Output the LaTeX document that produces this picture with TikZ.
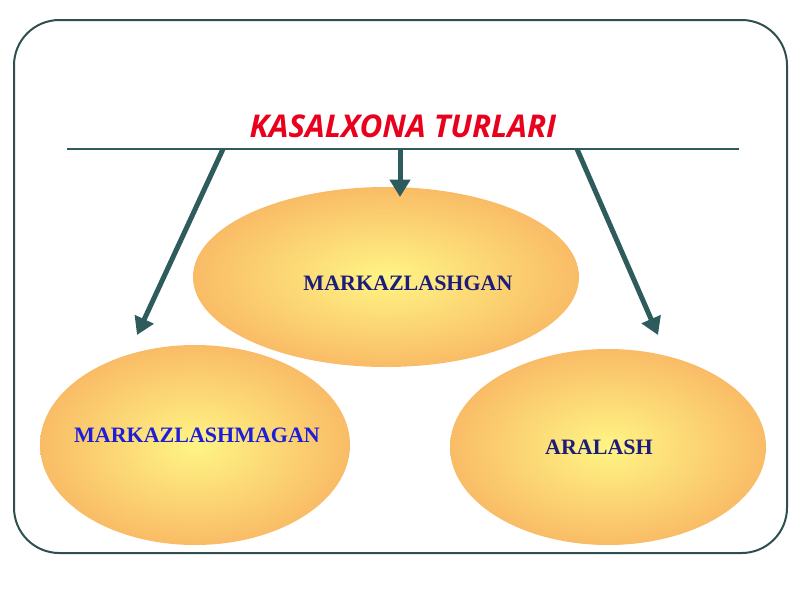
\documentclass[tikz,border=0pt]{standalone}
\usepackage{fontspec}
\setmainfont{Liberation Serif}
\newfontfamily\titlefont{Open Sans}
\usetikzlibrary{shapes.geometric,arrows.meta}

\definecolor{frameclr}{HTML}{2F4F4F}
\definecolor{arrowclr}{HTML}{2E5B5B}
\definecolor{titlered}{HTML}{E8001C}
\definecolor{navytxt}{HTML}{1C1C7A}
\definecolor{bluetxt}{HTML}{1E1ED8}
\definecolor{ovalin}{HTML}{FFF585}
\definecolor{ovalout}{HTML}{F9BC66}

\begin{document}
\begin{tikzpicture}[x=0.75pt,y=-0.75pt]
      \useasboundingbox (0,0) rectangle (800,600);

      \draw[frameclr, line width=1.5pt, rounded corners=34pt] (14,20) rectangle (787,553);

      \node (title) at (403,126) {\titlefont\fontsize{23.5}{26}\selectfont\bfseries\itshape\color{titlered}KASALXONA TURLARI};

      \coordinate (lft) at (67,149);
      \coordinate (rgt) at (739,149);
      \draw[arrowclr, line width=2pt] (lft) -- (rgt);

      \begin{scope}[every node/.style={ellipse, shading=radial, inner color=ovalin, outer color=ovalout}]
        \node (centr) [minimum width=289.5pt, minimum height=135pt] at (386,277) {};
        \node (left)  [minimum width=232.5pt, minimum height=150pt] at (195,445) {};
        \node (right) [minimum width=237pt,   minimum height=147pt] at (608,447) {};
      \end{scope}

      \begin{scope}[every node/.style={font=\fontsize{16.5}{18}\selectfont\bfseries}]
        \node[text=navytxt] (t1) at (408,283) {MARKAZLASHGAN};
        \node[text=bluetxt] (t2) at (197,435) {MARKAZLASHMAGAN};
        \node[text=navytxt] (t3) at (599,447) {ARALASH};
      \end{scope}

      \coordinate (s1) at (223,149);
      \coordinate (s2) at (400,149);
      \coordinate (s3) at (577,149);
      \coordinate (e1) at (137,335);
      \coordinate (e2) at (400,197);
      \coordinate (e3) at (658,335);

      \begin{scope}[every edge/.style={draw, arrowclr, line width=3.75pt, -{Triangle[width=15pt,length=13pt]}}]
        \path (s1) edge (e1);
        \path (s2) edge (e2);
        \path (s3) edge (e3);
      \end{scope}

    \end{tikzpicture}
\end{document}
